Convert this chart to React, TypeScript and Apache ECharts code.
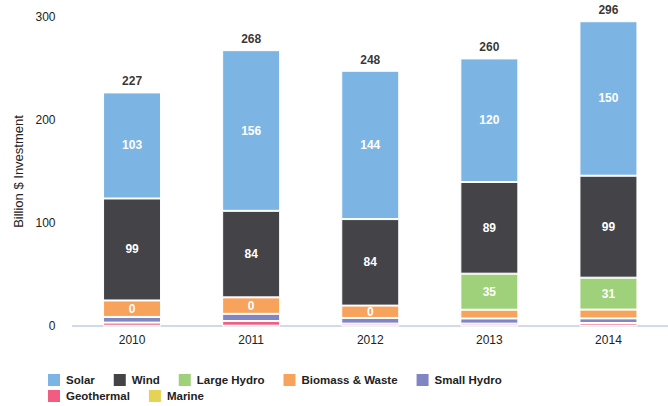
import React, { useEffect, useRef } from "react";
import * as echarts from "echarts";

const years = ["2010", "2011", "2012", "2013", "2014"];
const solar = [103, 156, 144, 120, 150];
const wind = [99, 84, 84, 89, 99];
const largeHydro = [0, 0, 0, 35, 31];
const biomass = [16, 16, 12, 8.5, 8.5];
const smallHydro = [5.5, 7, 5.5, 5, 4.5];
const geothermal = [3, 4.5, 2, 2, 2.5];
const marine = [0.3, 0.3, 0.3, 0.3, 0.4];
const biomassLabels = ["0", "0", "0", "", ""];
const yTicks = { min: 0, max: 300, interval: 100 };

const COLORS = {
  Solar: "#7cb5e3",
  Wind: "#434348",
  "Large Hydro": "#9fd17b",
  "Biomass & Waste": "#f7a35c",
  "Small Hydro": "#8085c4",
  Geothermal: "#f15c80",
  Marine: "#e4d354",
};

export default function App() {
  const ref = useRef<HTMLDivElement>(null);
  useEffect(() => {
    if (!ref.current) return;
    const chart = echarts.init(ref.current, null, { renderer: "svg" });
    const font = "'Liberation Sans', Arial, Helvetica, sans-serif";
    const totals = years.map((_, i) =>
      Math.round(
        solar[i] + wind[i] + largeHydro[i] + biomass[i] + smallHydro[i] + geothermal[i] + marine[i]
      )
    );
    const inLabel = {
      show: true,
      position: "inside",
      color: "#fff",
      fontWeight: "bold",
      fontSize: 12,
      fontFamily: font,
      formatter: (p: any) => (p.value ? String(Math.round(p.value)) : ""),
    };
    const mk = (name: string, data: number[], label?: any) => ({
      name,
      type: "bar",
      stack: "total",
      barWidth: 58,
      data: data.map((v) => (v ? v : "-")),
      itemStyle: { color: (COLORS as any)[name], borderColor: "#fff", borderWidth: 1 },
      label: label || { show: false },
      emphasis: { disabled: true },
    });
    const legendBase = {
      left: 46,
      padding: 0,
      itemWidth: 14,
      itemHeight: 14,
      itemGap: 17,
      icon: "rect",
      textStyle: { color: "#222", fontSize: 11.5, fontWeight: "bold", fontFamily: font },
    };
    chart.setOption({
      animation: false,
      grid: { left: 72.5, width: 607.5, top: 17, height: 309, containLabel: false },
      xAxis: {
        type: "category",
        data: years,
        axisLine: { lineStyle: { color: "#c0d0e0", width: 1.5 } },
        axisTick: { alignWithLabel: true, length: 6, lineStyle: { color: "#c0d0e0", width: 1.5 } },
        axisLabel: { color: "#222", fontSize: 12, fontFamily: font, margin: 8 },
      },
      yAxis: {
        type: "value",
        min: yTicks.min,
        max: yTicks.max,
        interval: yTicks.interval,
        name: "Billion $ Investment",
        nameLocation: "middle",
        nameGap: 46,
        nameTextStyle: { color: "#222", fontSize: 13, fontFamily: font },
        splitLine: { show: false },
        axisLine: { show: false },
        axisTick: { show: false },
        axisLabel: { color: "#222", fontSize: 12, fontFamily: font, margin: 17 },
      },
      legend: [
        {
          ...legendBase,
          top: 372,
          data: ["Solar", "Wind", "Large Hydro", "Biomass & Waste", "Small Hydro"],
        },
        {
          ...legendBase,
          top: 388,
          data: ["Geothermal", "Marine"],
        },
      ],
      series: [
        mk("Marine", marine),
        mk("Geothermal", geothermal),
        mk("Small Hydro", smallHydro),
        mk("Biomass & Waste", biomass, {
          ...inLabel,
          formatter: (p: any) => biomassLabels[p.dataIndex],
        }),
        mk("Large Hydro", largeHydro, inLabel),
        mk("Wind", wind, inLabel),
        mk("Solar", solar, inLabel),
        {
          name: "Total",
          type: "scatter",
          data: totals,
          symbolSize: 0,
          label: {
            show: true,
            position: "top",
            distance: 5,
            color: "#000",
            fontWeight: "bold",
            fontSize: 12,
            fontFamily: font,
            formatter: (p: any) => String(p.value),
          },
          emphasis: { disabled: true },
        },
      ],
    });
    return () => chart.dispose();
  }, []);
  return (
    <div
      ref={ref}
      style={{ position: "absolute", left: 0, top: 0, width: 668, height: 406 }}
    />
  );
}
